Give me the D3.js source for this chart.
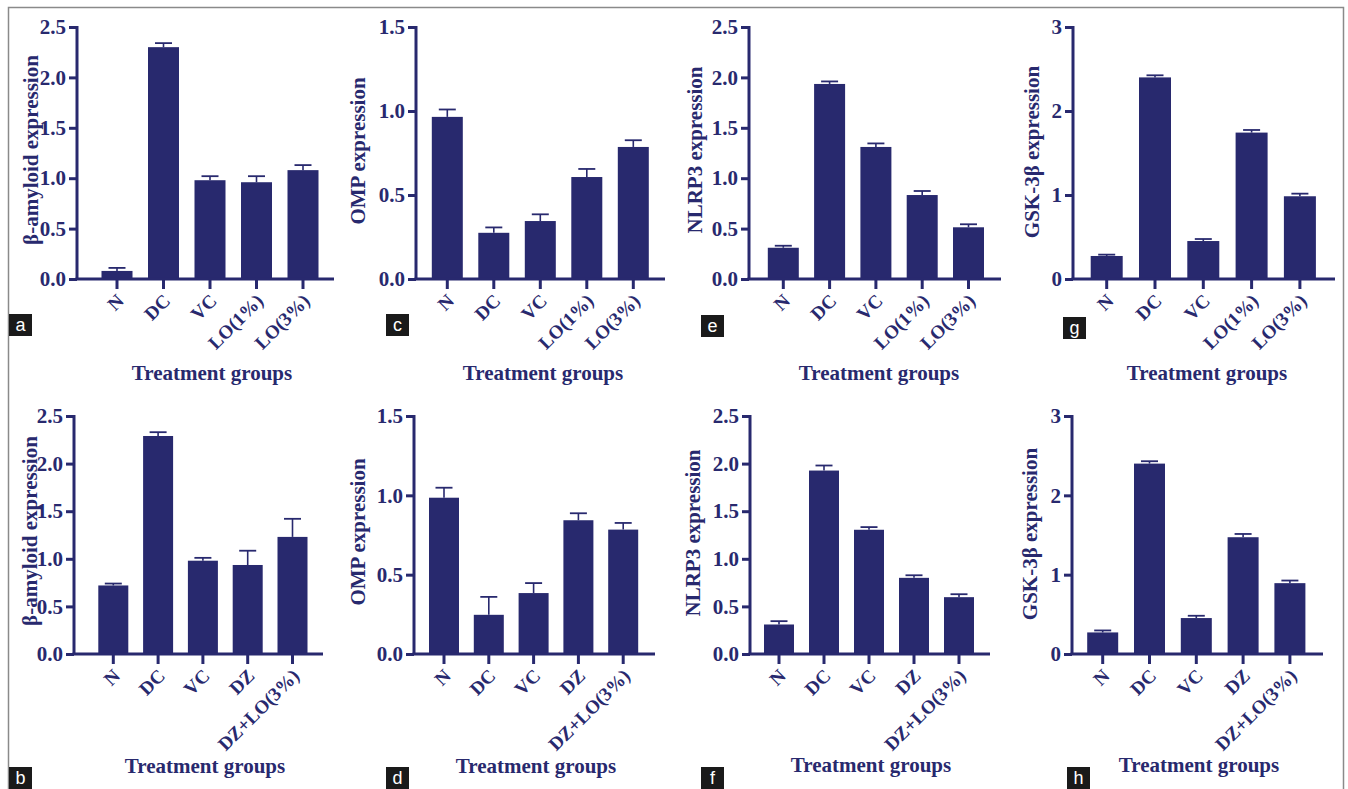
<!DOCTYPE html>
<html><head><meta charset="utf-8">
<script src="https://cdn.jsdelivr.net/npm/d3@7"></script>
<style>
body{margin:0;background:#fff;}
svg{display:block;}
</style></head>
<body>
<svg id="chart" width="1348" height="789"></svg>
<script>
// ---- data ----
const catsTop = ["N", "DC", "VC", "LO(1%)", "LO(3%)"];
const catsBottom = ["N", "DC", "VC", "DZ", "DZ+LO(3%)"];

const amyloidTop = [0.08, 2.30, 0.98, 0.96, 1.08];
const amyloidTopErr = [0.03, 0.04, 0.04, 0.06, 0.05];
const ompTop = [0.965, 0.275, 0.345, 0.607, 0.786];
const ompTopErr = [0.044, 0.032, 0.040, 0.048, 0.040];
const nlrp3Top = [0.31, 1.935, 1.31, 0.833, 0.513];
const nlrp3TopErr = [0.02, 0.025, 0.035, 0.04, 0.03];
const gskTop = [0.274, 2.40, 0.452, 1.743, 0.985];
const gskTopErr = [0.016, 0.025, 0.024, 0.031, 0.031];

const amyloidBottom = [0.72, 2.29, 0.98, 0.935, 1.23];
const amyloidBottomErr = [0.02, 0.04, 0.03, 0.15, 0.19];
const ompBottom = [0.985, 0.247, 0.384, 0.843, 0.784];
const ompBottomErr = [0.063, 0.113, 0.063, 0.044, 0.042];
const nlrp3Bottom = [0.31, 1.927, 1.305, 0.80, 0.597];
const nlrp3BottomErr = [0.035, 0.053, 0.028, 0.027, 0.031];
const gskBottom = [0.272, 2.40, 0.453, 1.472, 0.893];
const gskBottomErr = [0.025, 0.03, 0.029, 0.041, 0.033];

const ticks25 = [0, 0.5, 1.0, 1.5, 2.0, 2.5];
const ticks15 = [0, 0.5, 1.0, 1.5];
const ticks3 = [0, 1, 2, 3];

const yLabelAmyloid = "β-amyloid expression";
const yLabelOmp = "OMP expression";
const yLabelNlrp3 = "NLRP3 expression";
const yLabelGsk = "GSK-3β expression";
const xLabel = "Treatment groups";

// ---- layout (positions only) ----
const panels = [
  {letter:"a", cats:catsTop, vals:amyloidTop, errs:amyloidTopErr, ticks:ticks25, fmt:".1f", ylab:yLabelAmyloid,
   ax:77, yTop:27, y0:279, c0:117, step:46.5, xEnd:334, bw:31, ylx:31, yly:150, xlx:212, xly:380, box:[9,314]},
  {letter:"c", cats:catsTop, vals:ompTop, errs:ompTopErr, ticks:ticks15, fmt:".1f", ylab:yLabelOmp,
   ax:416, yTop:27, y0:279, c0:447.3, step:46.5, xEnd:665, bw:31, ylx:358, yly:151, xlx:543, xly:380, box:[386,314]},
  {letter:"e", cats:catsTop, vals:nlrp3Top, errs:nlrp3TopErr, ticks:ticks25, fmt:".1f", ylab:yLabelNlrp3,
   ax:749, yTop:27, y0:279, c0:783.3, step:46.3, xEnd:1001, bw:31, ylx:695, yly:150, xlx:879, xly:380, box:[701,315]},
  {letter:"g", cats:catsTop, vals:gskTop, errs:gskTopErr, ticks:ticks3, fmt:"d", ylab:yLabelGsk,
   ax:1073, yTop:27, y0:279, c0:1106.7, step:48.3, xEnd:1335, bw:32, ylx:1032, yly:152, xlx:1207, xly:380, box:[1063,317]},
  {letter:"b", cats:catsBottom, vals:amyloidBottom, errs:amyloidBottomErr, ticks:ticks25, fmt:".1f", ylab:yLabelAmyloid,
   ax:74, yTop:416, y0:654, c0:113.3, step:44.8, xEnd:323, bw:30, ylx:30, yly:531, xlx:205, xly:773, box:[9,767]},
  {letter:"d", cats:catsBottom, vals:ompBottom, errs:ompBottomErr, ticks:ticks15, fmt:".1f", ylab:yLabelOmp,
   ax:414, yTop:416, y0:654, c0:444, step:44.8, xEnd:655, bw:30, ylx:358, yly:532, xlx:536, xly:773, box:[386,767]},
  {letter:"f", cats:catsBottom, vals:nlrp3Bottom, errs:nlrp3BottomErr, ticks:ticks25, fmt:".1f", ylab:yLabelNlrp3,
   ax:750, yTop:416, y0:654, c0:779, step:45, xEnd:990, bw:30, ylx:693, yly:533, xlx:871, xly:772, box:[701,767]},
  {letter:"h", cats:catsBottom, vals:gskBottom, errs:gskBottomErr, ticks:ticks3, fmt:"d", ylab:yLabelGsk,
   ax:1072, yTop:416, y0:654, c0:1102.7, step:46.8, xEnd:1323, bw:31, ylx:1030, yly:534, xlx:1199, xly:772, box:[1067,767]}
];

const NAVY = "#28296e";
const FONT = "'Liberation Serif', 'Times New Roman', serif";
const svg = d3.select("#chart");

// outer frame
svg.append("rect").attr("x", 8.5).attr("y", 7.5).attr("width", 1335).attr("height", 800)
  .attr("fill", "none").attr("stroke", "#8a8a8a").attr("stroke-width", 1.5);

panels.forEach(p => {
  const g = svg.append("g");
  const yMax = p.ticks[p.ticks.length - 1];
  const y = d3.scaleLinear().domain([0, yMax]).range([p.y0, p.yTop]);
  const pad = 1 - p.bw / p.step;
  const x = d3.scaleBand().domain(p.cats)
    .range([p.c0 - p.step / 2, p.c0 - p.step / 2 + p.step * p.cats.length])
    .paddingInner(pad).paddingOuter(pad / 2);

  const data = p.cats.map((c, i) => ({c, v: p.vals[i], e: p.errs[i]}));

  // error bars
  const eg = g.append("g");
  data.forEach(d => {
    const cx = x(d.c) + x.bandwidth() / 2;
    eg.append("line").attr("x1", cx).attr("x2", cx).attr("y1", y(d.v)).attr("y2", y(d.v + d.e))
      .attr("stroke", NAVY).attr("stroke-width", 1.6);
    eg.append("line").attr("x1", cx - 8.5).attr("x2", cx + 8.5).attr("y1", y(d.v + d.e)).attr("y2", y(d.v + d.e))
      .attr("stroke", NAVY).attr("stroke-width", 1.8);
  });

  // bars
  g.selectAll("rect.bar").data(data).enter().append("rect").attr("class", "bar")
    .attr("x", d => x(d.c)).attr("width", x.bandwidth())
    .attr("y", d => y(d.v)).attr("height", d => p.y0 - y(d.v))
    .attr("fill", NAVY);

  // y axis
  const yAxis = d3.axisLeft(y).tickValues(p.ticks).tickFormat(d3.format(p.fmt)).tickSize(8).tickPadding(3);
  const ya = g.append("g").attr("transform", `translate(${p.ax},0)`).call(yAxis);
  ya.select(".domain").attr("stroke", NAVY).attr("stroke-width", 3).attr("d", `M0,${p.y0}V${p.yTop - 1}`);
  ya.selectAll(".tick line").attr("stroke", NAVY).attr("stroke-width", 3);
  ya.selectAll(".tick text").attr("fill", NAVY).attr("font-family", FONT).attr("font-weight", "bold")
    .attr("font-size", 21);

  // x axis
  const xAxis = d3.axisBottom(x).tickSize(10).tickSizeOuter(0).tickPadding(4);
  const xa = g.append("g").attr("transform", `translate(0,${p.y0})`).call(xAxis);
  xa.select(".domain").attr("stroke", NAVY).attr("stroke-width", 3).attr("d", `M${p.ax - 1.5},0H${p.xEnd}`);
  xa.selectAll(".tick line").attr("stroke", NAVY).attr("stroke-width", 3);
  xa.selectAll(".tick text").attr("fill", NAVY).attr("font-family", FONT).attr("font-weight", "bold")
    .attr("font-size", 19).attr("text-anchor", "end").attr("dy", null).attr("y", 0)
    .attr("transform", "translate(8,23) rotate(-45)");

  // axis titles
  g.append("text").attr("transform", `translate(${p.ylx},${p.yly}) rotate(-90)`)
    .attr("text-anchor", "middle").attr("dominant-baseline", "central")
    .attr("fill", NAVY).attr("font-family", FONT).attr("font-weight", "bold").attr("font-size", 21)
    .text(p.ylab);
  g.append("text").attr("x", p.xlx).attr("y", p.xly).attr("text-anchor", "middle")
    .attr("fill", NAVY).attr("font-family", FONT).attr("font-weight", "bold").attr("font-size", 21)
    .text(xLabel);

  // panel letter
  g.append("rect").attr("x", p.box[0]).attr("y", p.box[1]).attr("width", 23).attr("height", 22).attr("fill", "#1a1a1a");
  g.append("text").attr("x", p.box[0] + 11.5).attr("y", p.box[1] + 16.5).attr("text-anchor", "middle")
    .attr("fill", "#fff").attr("font-family", "'Liberation Sans', Arial, sans-serif").attr("font-size", 18)
    .text(p.letter);
});
</script>
</body></html>
